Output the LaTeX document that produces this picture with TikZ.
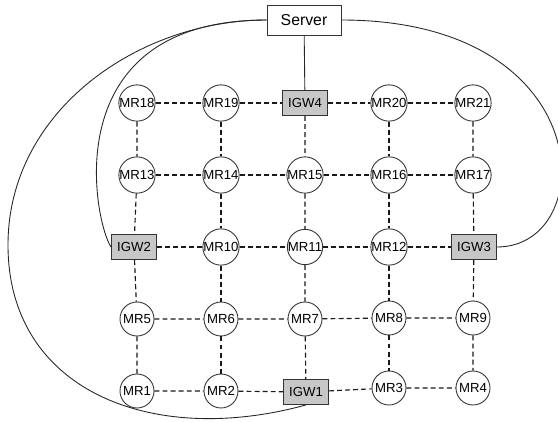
\documentclass[tikz,border=0pt]{standalone}
\usepackage{fontspec}
\setmainfont{Liberation Sans}
\begin{document}
\begin{tikzpicture}[every node/.style={draw=black!80,line width=0.5pt,inner sep=0pt,font=\fontsize{7.5}{9}\selectfont},
  mr/.style={circle,fill=white,minimum size=6.8mm},
  igw/.style={rectangle,fill=black!22,minimum width=9mm,minimum height=5mm},
  srv/.style={rectangle,fill=white,minimum width=14.8mm,minimum height=6mm,font=\fontsize{9}{11}\selectfont},
  link/.style={draw=black!90,line width=0.65pt,dash pattern=on 2.8pt off 1.8pt},
  wire/.style={draw=black!85,line width=0.5pt}]
\useasboundingbox (0,0) rectangle (11.16,-8.42);
\node[srv] (server) at (6.08,-0.40) {Server};
\node[mr] (mr18) at (2.74,-2.06) {MR18};
\node[mr] (mr19) at (4.42,-2.06) {MR19};
\node[igw] (igw4) at (6.10,-2.06) {IGW4};
\node[mr] (mr20) at (7.78,-2.06) {MR20};
\node[mr] (mr21) at (9.46,-2.06) {MR21};
\node[mr] (mr13) at (2.74,-3.50) {MR13};
\node[mr] (mr14) at (4.42,-3.50) {MR14};
\node[mr] (mr15) at (6.10,-3.50) {MR15};
\node[mr] (mr16) at (7.78,-3.50) {MR16};
\node[mr] (mr17) at (9.46,-3.50) {MR17};
\node[igw] (igw2) at (2.68,-4.94) {IGW2};
\node[mr] (mr10) at (4.42,-4.94) {MR10};
\node[mr] (mr11) at (6.10,-4.94) {MR11};
\node[mr] (mr12) at (7.78,-4.94) {MR12};
\node[igw] (igw3) at (9.48,-4.94) {IGW3};
\node[mr] (mr5) at (2.74,-6.38) {MR5};
\node[mr] (mr6) at (4.42,-6.38) {MR6};
\node[mr] (mr7) at (6.10,-6.38) {MR7};
\node[mr] (mr8) at (7.78,-6.36) {MR8};
\node[mr] (mr9) at (9.46,-6.36) {MR9};
\node[mr] (mr1) at (2.74,-7.82) {MR1};
\node[mr] (mr2) at (4.42,-7.82) {MR2};
\node[igw] (igw1) at (6.12,-7.84) {IGW1};
\node[mr] (mr3) at (7.78,-7.76) {MR3};
\node[mr] (mr4) at (9.46,-7.76) {MR4};
% mesh links
\draw[link] (mr18)--(mr19)--(igw4)--(mr20)--(mr21);
\draw[link] (mr13)--(mr14)--(mr15)--(mr16)--(mr17);
\draw[link] (igw2)--(mr10)--(mr11)--(mr12)--(igw3);
\draw[link] (mr5)--(mr6)--(mr7)--(mr8)--(mr9);
\draw[link] (mr1)--(mr2)--(igw1)--(mr3)--(mr4);
\draw[link] (mr18)--(mr13)--(igw2)--(mr5)--(mr1);
\draw[link] (mr19)--(mr14)--(mr10)--(mr6)--(mr2);
\draw[link] (igw4)--(mr15)--(mr11)--(mr7)--(igw1);
\draw[link] (mr20)--(mr16)--(mr12)--(mr8)--(mr3);
\draw[link] (mr21)--(mr17)--(igw3)--(mr9)--(mr4);
% wired gateways
\draw[wire] (server)--(igw4);
\draw[wire] (server.west) .. controls +(-4.3,0) and +(-0.32,0.45) .. (igw2.west);
\draw[wire] (server.west) .. controls +(-2.54,0) and +(0,2.70) .. (0.16,-4.90) .. controls +(0,-2.90) and +(-3.10,-0.85) .. (igw1.south);
\draw[wire] (server.east) .. controls +(5.18,0) and +(2.07,0) .. (igw3.east);
\end{tikzpicture}
\end{document}
